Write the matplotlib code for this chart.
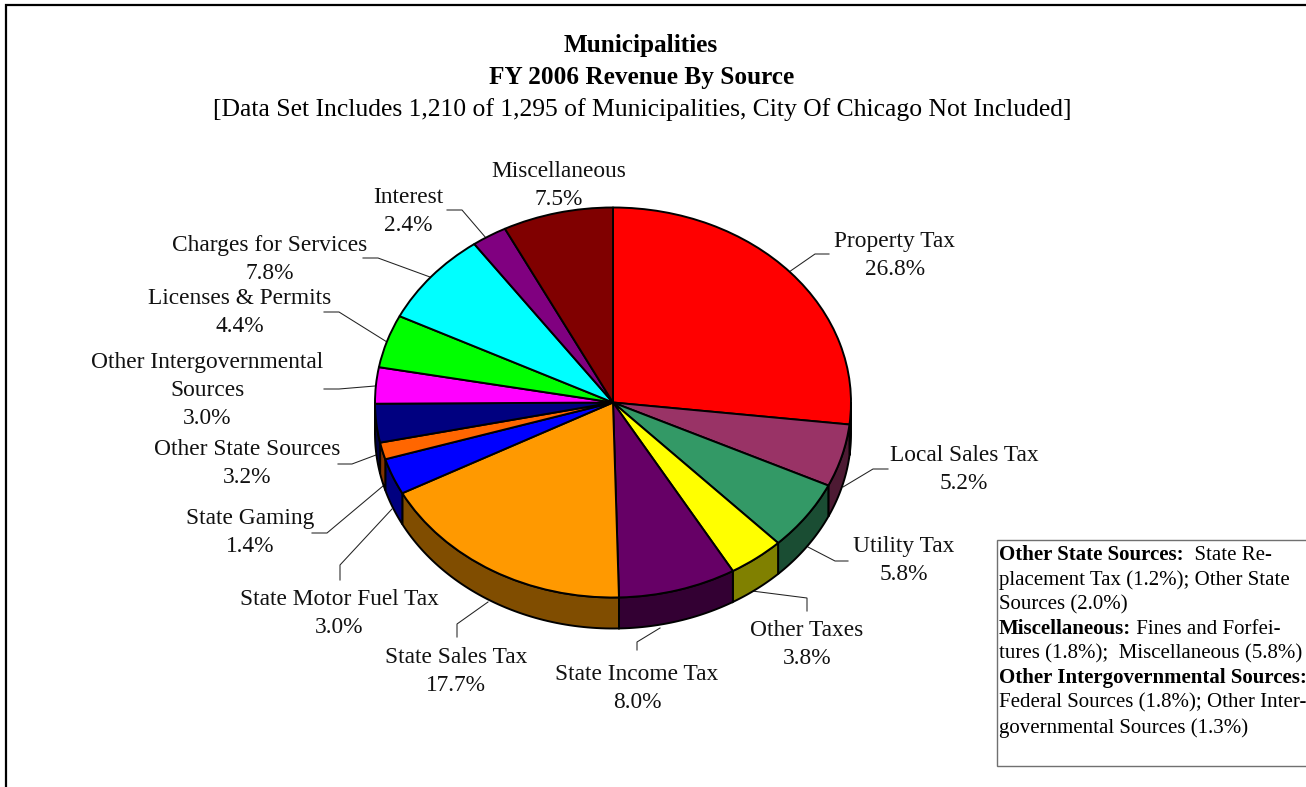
import numpy as np
import matplotlib
matplotlib.use("Agg")
import matplotlib.pyplot as plt
from matplotlib.colors import to_rgb
from matplotlib.patches import Polygon, Rectangle

plt.rcParams['font.family'] = ['Liberation Serif', 'DejaVu Serif']

W, H = 1306, 787

# ---- data ----
sources = ["Property Tax", "Local Sales Tax", "Utility Tax", "Other Taxes", "State Income Tax",
           "State Sales Tax", "State Motor Fuel Tax", "State Gaming", "Other State Sources",
           "Other Intergovernmental\nSources", "Licenses & Permits", "Charges for Services",
           "Interest", "Miscellaneous"]
shares = [26.8, 5.2, 5.8, 3.8, 8.0, 17.7, 3.0, 1.4, 3.2, 3.0, 4.4, 7.8, 2.4, 7.5]
slice_colors = ["#FF0000", "#993366", "#339966", "#FFFF00", "#660066", "#FF9900", "#0000FF",
                "#FF6600", "#000080", "#FF00FF", "#00FF00", "#00FFFF", "#800080", "#800000"]

title_lines = ["Municipalities", "FY 2006 Revenue By Source"]
subtitle = "[Data Set Includes 1,210 of 1,295 of Municipalities, City Of Chicago Not Included]"

note_lines = [
    [("Other State Sources:", True), ("  State Re-", False)],
    [("placement Tax (1.2%); Other State", False)],
    [("Sources (2.0%)", False)],
    [("Miscellaneous:", True), (" Fines and Forfei-", False)],
    [("tures (1.8%);  Miscellaneous (5.8%)", False)],
    [("Other Intergovernmental Sources:", True)],
    [("Federal Sources (1.8%); Other Inter-", False)],
    [("governmental Sources (1.3%)", False)],
]

# ---- layout (pixels) ----
CX, CY, RX, RY, DEPTH = 613, 402.5, 238, 195, 31

label_pos = [(895, 239), (964, 453), (904, 544), (807, 628), (637, 672), (456, 655), (339, 597),
             (250, 516), (247, 447), (207, 360), (240, 296), (270, 243), (408, 195), (559, 169)]
leaders = [
    [(829, 254), (815, 254), (789, 272)],
    [(888, 469), (873, 469), (843, 487)],
    [(848, 561), (835, 561), (808, 547)],
    [(807, 611), (807, 598), (752, 591)],
    [(637, 650), (637, 642), (660, 628)],
    [(457, 637), (457, 624), (488, 602)],
    [(340, 580), (340, 565), (392, 509)],
    [(312, 533), (327, 533), (383, 486)],
    [(338, 464), (352, 464), (376, 455)],
    [(324, 389), (339, 389), (375, 386)],
    [(324, 312), (339, 312), (387, 342)],
    [(363, 258), (378, 258), (430, 277)],
    [(447, 210), (462, 210), (486, 238)],
]

fig = plt.figure(figsize=(W / 100, H / 100), dpi=100, facecolor="white")

# pixel-space overlay for text, leaders, frame
px = fig.add_axes([0, 0, 1, 1], zorder=1)
px.set_xlim(0, W)
px.set_ylim(H, 0)
px.axis("off")

# pie axes: x unit = RX, y unit = RY, gives the tilted ellipse
pie_ax = fig.add_axes([(CX - RX) / W, 1 - (CY + RY) / H, 2 * RX / W, 2 * RY / H], zorder=2)
pie_ax.patch.set_alpha(0)
wedges, _ = pie_ax.pie(shares, colors=slice_colors, startangle=90, counterclock=False, radius=1,
                       wedgeprops=dict(edgecolor="black", linewidth=1.4, joinstyle="round"))
pie_ax.set_aspect("auto")
pie_ax.set_xlim(-1, 1)
pie_ax.set_ylim(-1, 1)
for w in wedges:
    w.set_clip_on(False)
    w.set_zorder(3)

# side wall of the disc, from the same shares
d = DEPTH / RY
edges = np.cumsum([0] + shares) / sum(shares) * 360.0
for a0, a1, col in zip(edges[:-1], edges[1:], slice_colors):
    lo, hi = max(a0, 90.0), min(a1, 270.0)
    if hi <= lo:
        continue
    t = np.radians(np.linspace(lo, hi, 60))
    xs, ys = np.sin(t), np.cos(t)
    pts = np.r_[np.c_[xs, ys], np.c_[xs[::-1], ys[::-1] - d]]
    dark = tuple(c * 0.5 for c in to_rgb(col))
    pie_ax.add_patch(Polygon(pts, closed=True, facecolor=dark, edgecolor="black",
                             linewidth=1.4, clip_on=False, zorder=2))

# frame of the picture (left and top only reach the canvas)
px.plot([6, 6, W], [H, 5, 5], color="black", lw=1.6, solid_joinstyle="miter", clip_on=False)

# leaders
for line in leaders:
    xs, ys = zip(*line)
    px.plot(xs, ys, color="#222222", lw=0.75, solid_joinstyle="miter")

# labels
LFS = 16.8
LINE = 28
for name, v, (x, y) in zip(sources, shares, label_pos):
    parts = name.split("\n") + [f"{v:.1f}%"]
    for i, s in enumerate(parts):
        px.text(x, y + 8 + i * LINE, s, ha="center", va="baseline", fontsize=LFS, color="#111111")

# titles
px.text(641, 52, title_lines[0], ha="center", va="baseline", fontsize=18.2, fontweight="bold")
px.text(642, 84, title_lines[1], ha="center", va="baseline", fontsize=18.2, fontweight="bold")
px.text(642, 116, subtitle, ha="center", va="baseline", fontsize=18.45)

# note box
px.add_patch(Rectangle((996.5, 539.5), W + 20 - 996.5, 226.5, facecolor="white",
                       edgecolor="#707070", lw=1.0, clip_on=True))
renderer = fig.canvas.get_renderer()
NFS = 15.0
for i, runs in enumerate(note_lines):
    y = 560 + i * 24.65
    x = 999
    for s, bold in runs:
        t = px.text(x, y, s, ha="left", va="baseline", fontsize=NFS, parse_math=False,
                    fontweight="bold" if bold else "normal", clip_on=True)
        bb = t.get_window_extent(renderer)
        x += bb.width

fig.savefig("out.png", dpi=100)
